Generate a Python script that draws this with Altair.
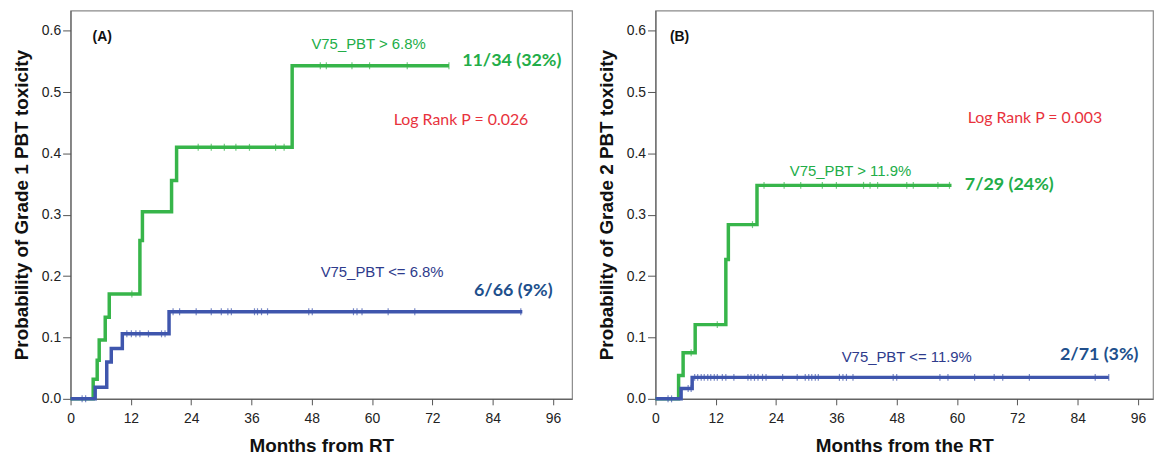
import altair as alt
import pandas as pd

# ---------------- Panel A data ----------------
a_hi_t = [0, 4.5, 5.3, 5.7, 6.9, 7.7, 13.8, 14.3, 20.1, 21.1, 44.1, 75.3]
a_hi_p = [0, 0.032, 0.063, 0.096, 0.133, 0.171, 0.258, 0.305, 0.356, 0.41, 0.543, 0.543]
a_hi_c = [12.2, 25.4, 28.0, 30.6, 32.9, 35.6, 40.8, 42.5, 49.7, 50.9, 56.0, 59.5, 67.0, 75.3]

a_lo_t = [0, 4.9, 7.2, 8.1, 10.3, 19.6, 89.9]
a_lo_p = [0, 0.019, 0.06, 0.082, 0.106, 0.142, 0.142]
a_lo_c = [2.3, 3.0, 11.2, 12.1, 13.0, 13.8, 15.5, 18.1, 18.8, 20.4, 21.7, 25.0, 28.0, 30.0,
          31.3, 32.0, 36.6, 37.2, 38.0, 39.2, 47.4, 48.1, 56.3, 57.0, 58.0, 63.2, 68.5, 89.6]

# ---------------- Panel B data ----------------
b_hi_t = [0, 4.6, 5.5, 7.9, 14.0, 14.5, 20.2, 58.9]
b_hi_p = [0, 0.038, 0.075, 0.121, 0.227, 0.284, 0.348, 0.348]
b_hi_c = [7.1, 12.3, 19.3, 21.6, 25.6, 28.9, 33.2, 36.0, 41.4, 42.7, 44.2, 50.0, 51.3, 56.2, 58.5]

b_lo_t = [0, 5.1, 7.3, 90.2]
b_lo_p = [0, 0.017, 0.035, 0.035]
b_lo_c = [2.5, 3.2, 6.5, 7.1, 7.8, 8.4, 9.1, 9.7, 10.4, 11.0, 11.7, 12.3, 13.3, 14.0, 15.6,
          18.4, 19.0, 19.7, 20.4, 21.3, 22.0, 25.3, 28.2, 29.8, 30.5, 31.1, 31.8, 32.4,
          36.6, 37.3, 38.0, 39.3, 47.3, 48.0, 56.6, 58.2, 63.5, 67.4, 69.1, 74.4, 87.5, 90.2]

x_ticks = [0, 12, 24, 36, 48, 60, 72, 84, 96]
y_ticks = [0.0, 0.1, 0.2, 0.3, 0.4, 0.5, 0.6]

GREEN = "#37b54a"
BLUE = "#3f56ad"
GREEN_TXT = "#22ad48"
BLUE_TXT = "#2e3b8c"
NUM_BLUE = "#204f8c"
RED = "#e8323c"

# labels: x, y, text, color, size, weight, font
a_labels = [
    (6.3, 0.590, "(A)", "#111111", 14, "bold", "Liberation Sans"),
    (59.3, 0.578, "V75_PBT > 6.8%", GREEN_TXT, 15, "normal", "Liberation Sans"),
    (87.8, 0.551, "11/34 (32%)", GREEN_TXT, 18, "bold", "Lato"),
    (77.7, 0.455, "Log Rank P = 0.026", RED, 16, "normal", "Lato"),
    (62.0, 0.206, "V75_PBT <= 6.8%", BLUE_TXT, 15, "normal", "Liberation Sans"),
    (88.1, 0.176, "6/66 (9%)", NUM_BLUE, 18, "bold", "Lato"),
]
b_labels = [
    (4.8, 0.590, "(B)", "#111111", 14, "bold", "Liberation Sans"),
    (75.5, 0.458, "Log Rank P = 0.003", RED, 16, "normal", "Lato"),
    (38.8, 0.372, "V75_PBT > 11.9%", GREEN_TXT, 15, "normal", "Liberation Sans"),
    (70.4, 0.348, "7/29 (24%)", GREEN_TXT, 18, "bold", "Lato"),
    (50.0, 0.068, "V75_PBT <= 11.9%", BLUE_TXT, 15, "normal", "Liberation Sans"),
    (88.3, 0.071, "2/71 (3%)", NUM_BLUE, 18, "bold", "Lato"),
]


def step_at(ts, ps, t):
    v = ps[0]
    for ti, pi in zip(ts, ps):
        if ti <= t:
            v = pi
    return v


def panel(hi, lo, labels, ytitle, xtitle, width, xmax):
    rows = []
    for name, (ts, ps, _) in (("hi", hi), ("lo", lo)):
        for t, p in zip(ts, ps):
            rows.append({"t": t, "p": p, "g": name})
    steps = pd.DataFrame(rows)
    crow = []
    for name, (ts, ps, cs) in (("hi", hi), ("lo", lo)):
        for c in cs:
            crow.append({"t": c, "p": step_at(ts, ps, c), "g": name})
    cens = pd.DataFrame(crow)

    xs = alt.Scale(domain=[0, xmax], nice=False, zero=False)
    ys = alt.Scale(domain=[0, 0.633], nice=False)
    col = alt.Color("g:N", scale=alt.Scale(domain=["hi", "lo"], range=[GREEN, BLUE]), legend=None)
    xax = alt.Axis(values=x_ticks, title=xtitle, tickSize=6, labelPadding=7, titlePadding=11,
                   grid=False, labelFontSize=14, titleFontSize=19, titleFontWeight="bold",
                   labelFlush=False)
    yax = alt.Axis(values=y_ticks, format=".1f", title=ytitle, tickSize=8, labelPadding=2,
                   titlePadding=10, grid=False, labelFontSize=14, titleFontSize=19,
                   titleFontWeight="bold", labelFlush=False)

    line = alt.Chart(steps).mark_line(interpolate="step-after", strokeWidth=3.5).encode(
        x=alt.X("t:Q", scale=xs, axis=xax),
        y=alt.Y("p:Q", scale=ys, axis=yax),
        color=col,
        detail="g:N",
    )
    ticks = alt.Chart(cens).mark_tick(orient="vertical", size=7, thickness=1.2).encode(
        x=alt.X("t:Q", scale=xs),
        y=alt.Y("p:Q", scale=ys),
        color=col,
    )
    layers = [line, ticks]
    for (x, y, txt, c, s, w, f) in labels:
        d = pd.DataFrame({"x": [x], "y": [y], "txt": [txt]})
        layers.append(
            alt.Chart(d).mark_text(color=c, fontSize=s, fontWeight=w, font=f,
                                   align="center", baseline="middle").encode(
                x=alt.X("x:Q", scale=xs), y=alt.Y("y:Q", scale=ys), text="txt:N")
        )
    return alt.layer(*layers).properties(width=width, height=391)


pa = panel((a_hi_t, a_hi_p, a_hi_c), (a_lo_t, a_lo_p, a_lo_c), a_labels,
           "Probability of Grade 1 PBT toxicity", "Months from RT", 505, 99.8)
pb = panel((b_hi_t, b_hi_p, b_hi_c), (b_lo_t, b_lo_p, b_lo_c), b_labels,
           "Probability of Grade 2 PBT toxicity", "Months from the RT", 501, 99.0)

chart = alt.hconcat(pa, pb, spacing=23).properties(
    padding={"left": 3, "top": 0, "right": 0, "bottom": 0}
).configure_view(stroke="#8a8a8a", strokeWidth=1.2).configure_axis(
    domainColor="#555555", tickColor="#555555", labelColor="#222222", titleColor="#111111",
    labelFont="Liberation Sans", titleFont="Liberation Sans"
)

chart.save("out.html", embed_options={"renderer": "svg", "actions": False})
